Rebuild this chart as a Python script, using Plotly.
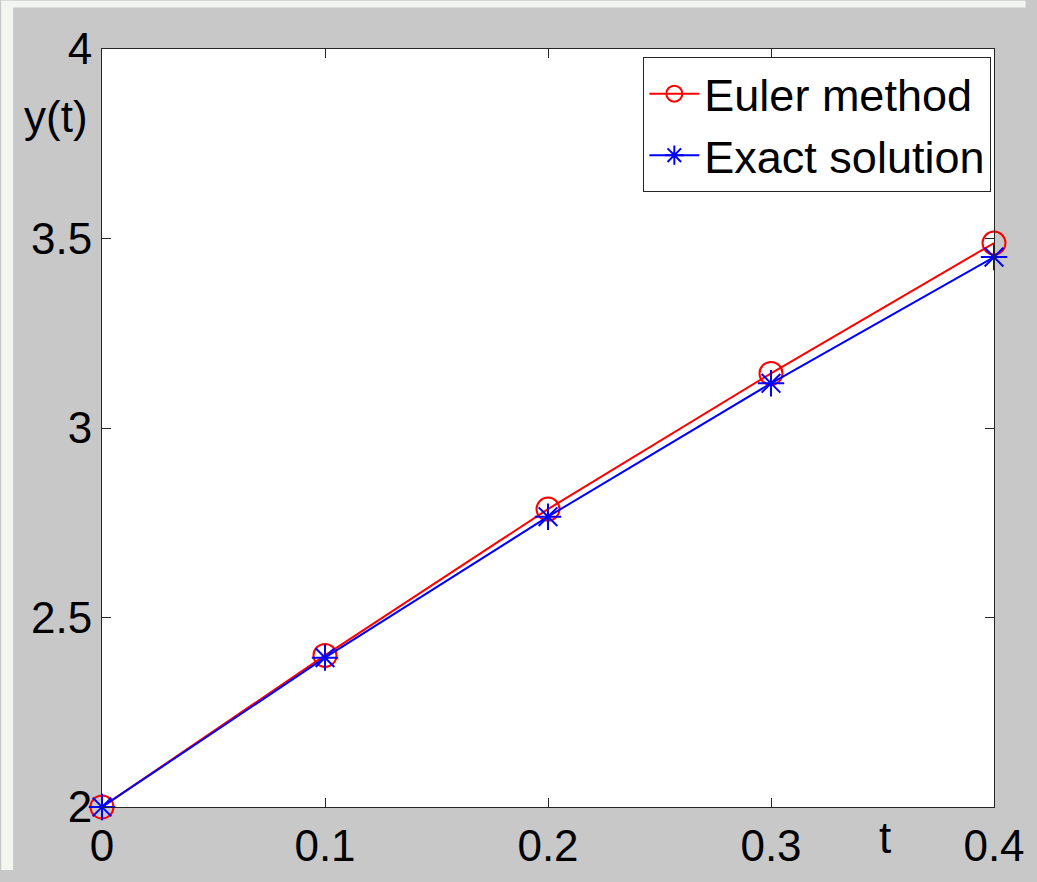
import plotly.graph_objects as go

t_values = [0.0, 0.1, 0.2, 0.3, 0.4]
euler_values = [2.0, 2.40, 2.786, 3.144, 3.488]
exact_values = [2.0, 2.394, 2.766, 3.118, 3.451]
x_ticks = [0, 0.1, 0.2, 0.3, 0.4]
x_tick_labels = ["0", "0.1", "0.2", "0.3", "0.4"]
y_ticks = [2, 2.5, 3, 3.5, 4]
y_tick_labels = ["2", "2.5", "3", "3.5", "4"]

W, H = 1037, 882
S_LEFT, S_RIGHT, S_TOP, S_BOTTOM = 102, 1005, 49, 818
ML, MT = S_LEFT, S_TOP
MR, MB = W - S_RIGHT, H - S_BOTTOM
PW = W - ML - MR
PH = H - MT - MB

def px_x(sx):
    return (sx - ML) / PW

def px_y(sy):
    return (H - MB - sy) / PH

FONT = "Liberation Sans, Arial, sans-serif"
LIGHT = "#f3f5f1"
GRAY = "#c8c8c8"

fig = go.Figure()
fig.add_trace(go.Scatter(
    x=t_values, y=euler_values, name="Euler method", mode="lines+markers",
    line=dict(color="#ff0000", width=2),
    marker=dict(symbol="circle-open", size=23, color="#ff0000", line=dict(width=2, color="#ff0000")),
    cliponaxis=False,
))
fig.add_trace(go.Scatter(
    x=t_values, y=exact_values, name="Exact solution", mode="lines+markers",
    line=dict(color="#0000ff", width=2),
    marker=dict(symbol="asterisk-open", size=22, color="#0000ff", line=dict(width=2, color="#0000ff")),
    cliponaxis=False,
))

axis_common = dict(
    showgrid=False, zeroline=False, showline=True, linecolor="#262626", linewidth=1,
    mirror="ticks", ticks="inside", ticklen=9, tickcolor="#262626", tickwidth=1,
    tickfont=dict(family=FONT, size=44, color="#000000"),
)
fig.update_xaxes(range=[0, 0.4], tickvals=x_ticks, ticktext=x_tick_labels, **axis_common)
fig.update_yaxes(range=[2, 4], tickvals=y_ticks, ticktext=y_tick_labels, **axis_common)

shapes = [
    dict(type="rect", xref="paper", yref="paper", x0=px_x(0), x1=px_x(12), y0=px_y(H), y1=px_y(0),
         fillcolor=LIGHT, line=dict(width=0), layer="below"),
    dict(type="rect", xref="paper", yref="paper", x0=px_x(0), x1=px_x(W), y0=px_y(7), y1=px_y(0),
         fillcolor=LIGHT, line=dict(width=0), layer="below"),
]

fig.update_layout(
    width=W, height=H,
    margin=dict(l=ML, r=MR, t=MT, b=MB),
    paper_bgcolor=GRAY, plot_bgcolor="#ffffff",
    font=dict(family=FONT, size=44, color="#000000"),
    showlegend=True,
    hovermode=False,
    legend=dict(
        x=px_x(650), y=px_y(57), xanchor="left", yanchor="top",
        bgcolor="#ffffff", bordercolor="#262626", borderwidth=1,
        font=dict(family=FONT, size=45, color="#000000"),
        itemwidth=50, tracegroupgap=0,
    ),
    shapes=shapes,
    annotations=[
        dict(text="y(t)", xref="paper", yref="paper", x=px_x(55), y=px_y(117),
             xanchor="center", yanchor="middle", showarrow=False,
             font=dict(family=FONT, size=44, color="#000000")),
        dict(text="t", xref="paper", yref="paper", x=px_x(895), y=px_y(849),
             xanchor="center", yanchor="middle", showarrow=False,
             font=dict(family=FONT, size=44, color="#000000")),
    ],
)

fig.write_html(
    "out.html",
    config={"displayModeBar": False},
    post_script="document.body.style.margin='0';document.body.style.padding='0';"
                "document.body.style.background='" + GRAY + "';"
                "document.documentElement.style.background='" + GRAY + "';"
                "document.documentElement.style.overflow='hidden';",
)
